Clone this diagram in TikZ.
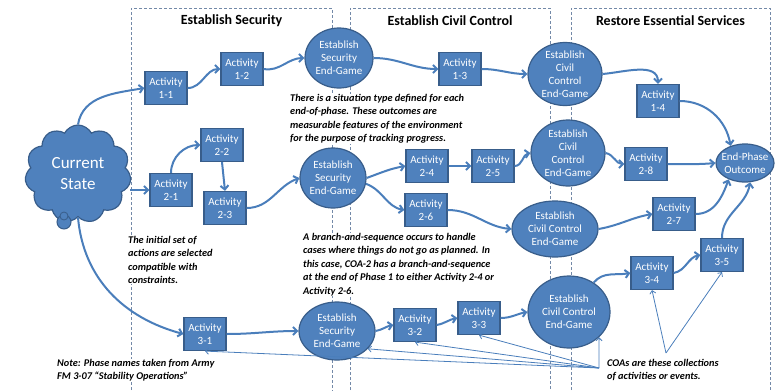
\documentclass[tikz,border=0pt]{standalone}
\usepackage{fontspec}
\setmainfont{Carlito}
\usetikzlibrary{shapes.geometric,shapes.symbols,arrows.meta}
\definecolor{nodeblue}{HTML}{4F81BD}
\definecolor{borderblue}{HTML}{385D8A}
\definecolor{lineblue}{HTML}{4A7EBB}
\definecolor{dashgray}{HTML}{7389A8}
\newcommand{\notefont}{\fontsize{10.3}{13.5}\selectfont\bfseries\itshape}
\begin{document}
\begin{tikzpicture}[x=1pt,y=1pt,
  act/.style={rectangle, fill=nodeblue, draw=borderblue, line width=1.2pt, text=white,
    minimum width=42pt, minimum height=33pt, inner sep=0pt, align=center,
    font=\fontsize{11}{13}\selectfont},
  goalshape/.style={ellipse, fill=nodeblue, draw=borderblue, line width=1.2pt, inner sep=0pt},
  goaltext/.style={text=white, align=center, inner sep=0pt, font=\fontsize{11}{13}\selectfont},
  conn/.style={draw=lineblue, line width=2pt, -{Straight Barb[length=4pt,width=8pt]}},
  thinconn/.style={draw=lineblue, line width=0.8pt, -{Straight Barb[length=3pt,width=6pt]}},
  note/.style={fill=white, inner sep=0pt, align=left, font=\notefont, anchor=north west},
  phase/.style={draw=dashgray, dash pattern=on 3pt off 2pt, line width=0.9pt},
  title/.style={font=\fontsize{14}{16}\selectfont\bfseries}
]
\useasboundingbox (0,0) rectangle (782,-391);

% phase boxes
\draw[phase] (131,-395) -- (131,-8) -- (332,-8) -- (332,-395);
\draw[phase] (350,-395) -- (350,-8) -- (550,-8) -- (550,-395);
\draw[phase] (571,-395) -- (571,-8) -- (770,-8) -- (770,-395);
\node[title] (t1) at (231.5,-21) {Establish Security};
\node[title] (t2) at (450,-21) {Establish Civil Control};
\node[title] (t3) at (670.5,-21) {Restore Essential Services};

% notes
\node[note] (n1) at (290,-94) {There is a situation type defined for each\\end-of-phase. These outcomes are\\measurable features of the environment\\for the purpose of tracking progress.};
\node[note] (n2) at (128,-236) {The initial set of\\actions are selected\\compatible with\\constraints.};
\node[note] (n3) at (303,-233) {A branch-and-sequence occurs to handle\\cases where things do not go as planned. In\\this case, COA-2 has a branch-and-sequence\\at the end of Phase 1 to either Activity 2-4 or\\Activity 2-6.};
\node[note] (n4) at (57,-359) {Note: Phase names taken from Army\\FM 3-07 “Stability Operations”};
\node[note] (n5) at (607,-359) {COAs are these collections\\of activities or events.};

% cloud
\node[cloud, cloud puffs=11, cloud puff arc=125, aspect=1.05, fill=nodeblue, draw=borderblue,
  line width=1.2pt, minimum width=106pt, minimum height=98pt, inner sep=0pt] (cloud) at (78,-174) {};
\draw[fill=nodeblue, draw=borderblue, line width=1pt] (64,-222) circle (7);
\draw[fill=nodeblue, draw=borderblue, line width=0.8pt] (64,-216) circle (4);
\node[text=white, align=center, font=\fontsize{17}{21}\selectfont] (cstext) at (cloud) {Current\\State};

% activities
\node[act] (a11) at (166,-88) {Activity\\1-1};
\node[act] (a12) at (242,-69) {Activity\\1-2};
\node[act] (a13) at (460,-69) {Activity\\1-3};
\node[act] (a14) at (658,-101) {Activity\\1-4};
\node[act] (a21) at (171,-190) {Activity\\2-1};
\node[act] (a22) at (222,-145) {Activity\\2-2};
\node[act] (a23) at (225,-208) {Activity\\2-3};
\node[act] (a24) at (427,-166) {Activity\\2-4};
\node[act] (a25) at (493,-166) {Activity\\2-5};
\node[act] (a26) at (426,-210) {Activity\\2-6};
\node[act] (a28) at (646,-164) {Activity\\2-8};
\node[act] (a27) at (674,-214) {Activity\\2-7};
\node[act] (a31) at (205,-334) {Activity\\3-1};
\node[act] (a32) at (415,-325) {Activity\\3-2};
\node[act] (a33) at (479,-318) {Activity\\3-3};
\node[act] (a34) at (652,-273) {Activity\\3-4};
\node[act] (a35) at (722,-255) {Activity\\3-5};

% end-games
\node[goalshape, minimum width=68pt, minimum height=60pt] (es1) at (339,-58) {};
\node[goaltext] at (es1) {Establish\\Security\\End-Game};
\node[goalshape, minimum width=66pt, minimum height=60pt] (es2) at (333,-178) {};
\node[goaltext] at (es2) {Establish\\Security\\End-Game};
\node[goalshape, minimum width=76pt, minimum height=58pt] (es3) at (337,-331) {};
\node[goaltext] at (es3) {Establish\\Security\\End-Game};
\node[goalshape, minimum width=74pt, minimum height=63pt] (ecc1) at (565,-74) {};
\node[goaltext] at (ecc1) {Establish\\Civil\\Control\\End-Game};
\node[goalshape, minimum width=74pt, minimum height=66pt] (ecc2) at (568,-153) {};
\node[goaltext] at (ecc2) {Establish\\Civil\\Control\\End-Game};
\node[goalshape, minimum width=86pt, minimum height=56pt] (ecc3) at (555,-229) {};
\node[goaltext] at (ecc3) {Establish\\Civil Control\\End-Game};
\node[goalshape, minimum width=82pt, minimum height=72pt] (ecc4) at (569,-312) {};
\node[goaltext] at (ecc4) {Establish\\Civil Control\\End-Game};
\node[goalshape, minimum width=58pt, minimum height=38pt] (epo) at (745,-163) {};
\node[goaltext] at (epo) {End-Phase\\Outcome};

% connectors row 1
\draw[conn] (cloud.north) to[out=80,in=190] (a11.west);
\draw[conn] (a11.east) to[out=0,in=180] (a12.west);
\draw[conn] (a12.east) to[out=-10,in=180] (es1.west);
\draw[conn] (es1.east) to[out=0,in=180] (a13.west);
\draw[conn] (a13.east) to[out=0,in=180] (ecc1.west);
\draw[conn] (ecc1.east) to[out=5,in=90] (a14.north);
\draw[conn] (a14.east) to[out=0,in=100] (epo.130);
% row 2
\draw[conn] (cloud.east |- a21.west) -- (a21.west);
\draw[conn] (a21.north) to[out=90,in=180] (a22.west);
\draw[conn] (a22.south) -- (a23.north);
\draw[conn] (a23.east) to[out=0,in=200] (es2.west);
\draw[conn] (es2.east) to[out=20,in=190] (a24.west);
\draw[conn] (es2.-10) to[out=-20,in=170] (a26.west);
\draw[conn] (a24.east) -- (a25.west);
\draw[conn] (a25.east) to[out=0,in=190] (ecc2.west);
\draw[conn] (ecc2.east) to[out=-10,in=180] (a28.west);
\draw[conn] (a28.east) to[out=0,in=185] (epo.west);
\draw[conn] (a26.east) to[out=0,in=175] (ecc3.west);
\draw[conn] (ecc3.east) to[out=10,in=190] (a27.west);
\draw[conn] (a27.east) to[out=0,in=-110] (epo.-135);
% row 3
\draw[conn] (cloud.south) to[out=-85,in=165] (a31.west);
\draw[conn] (a31.east) to[out=0,in=180] (es3.west);
\draw[conn] (es3.east) to[out=10,in=190] (a32.west);
\draw[conn] (a32.east) to[out=10,in=190] (a33.west);
\draw[conn] (a33.east) to[out=0,in=190] (ecc4.west);
\draw[conn] (ecc4.50) to[out=50,in=190] (a34.west);
\draw[conn] (a34.east) to[out=10,in=190] (a35.west);
\draw[conn] (a35.north) to[out=90,in=-100] (epo.-75);

% callout lines
\coordinate (p1) at (599,-368);
\coordinate (p2) at (666,-353);
\draw[thinconn] (p1) -- (a31.south);
\draw[thinconn] (p1) -- (es3.-30);
\draw[thinconn] (p1) -- (a32.south);
\draw[thinconn] (p1) -- (a33.south);
\draw[thinconn] (p1) -- (ecc4.-40);
\draw[thinconn] (p2) -- (a34.south);
\draw[thinconn] (p2) -- (a35.south);
\end{tikzpicture}
\end{document}
